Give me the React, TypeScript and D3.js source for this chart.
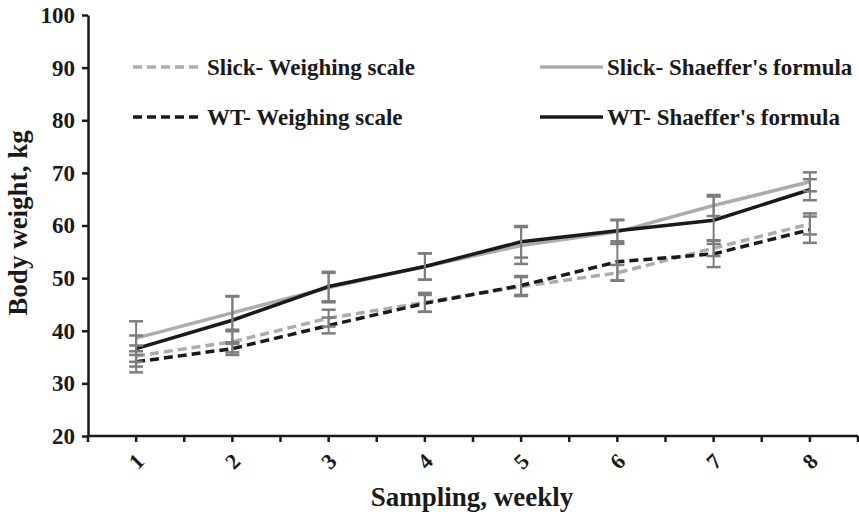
import { useEffect, useRef } from 'react'
import * as d3 from 'd3'

const weeks = ['1', '2', '3', '4', '5', '6', '7', '8']
const yTicks = [20, 30, 40, 50, 60, 70, 80, 90, 100]

const slickScale = [35.2, 37.9, 42.4, 45.4, 48.4, 51.0, 55.7, 60.3]
const slickScaleErr = [2.0, 2.0, 1.6, 1.8, 1.8, 1.5, 1.5, 2.0]
const slickFormula = [38.6, 43.4, 48.2, 52.2, 56.2, 58.8, 63.8, 68.3]
const slickFormulaErr = [3.2, 3.2, 2.8, 2.5, 3.5, 2.3, 2.0, 1.8]
const wtScale = [34.1, 36.6, 41.0, 45.2, 48.6, 53.1, 54.6, 59.2]
const wtScaleErr = [2.0, 1.2, 1.5, 1.6, 1.8, 3.5, 2.5, 2.5]
const wtFormula = [36.6, 42.0, 48.4, 52.2, 56.9, 59.0, 61.0, 66.8]
const wtFormulaErr = [2.5, 4.5, 2.8, 2.5, 3.0, 2.0, 4.5, 2.0]

const seriesNames = [
  'Slick- Weighing scale',
  "Slick- Shaeffer's formula",
  'WT- Weighing scale',
  "WT- Shaeffer's formula",
]

function App() {
  const svgRef = useRef<SVGSVGElement>(null)

  useEffect(() => {
    if (!svgRef.current) return
    const svg = d3.select(svgRef.current)
    svg.selectAll('*').remove()

    const margin = { top: 15, right: 1, bottom: 79, left: 88 }
    const width = 859 - margin.left - margin.right
    const height = 515 - margin.top - margin.bottom
    const font = '"Liberation Serif", "Times New Roman", serif'

    const g = svg.append('g').attr('transform', `translate(${margin.left},${margin.top})`)

    const x = d3.scaleBand().domain(weeks).range([0, width])
    const y = d3.scaleLinear().domain([20, 100]).range([height, 0])
    const cx = (w: string) => (x(w) as number) + x.bandwidth() / 2

    const series = [
      { name: seriesNames[0], values: slickScale, err: slickScaleErr, color: '#acacac', dash: '9,5' },
      { name: seriesNames[1], values: slickFormula, err: slickFormulaErr, color: '#acacac', dash: null },
      { name: seriesNames[2], values: wtScale, err: wtScaleErr, color: '#1a1a1a', dash: '9,5' },
      { name: seriesNames[3], values: wtFormula, err: wtFormulaErr, color: '#1a1a1a', dash: null },
    ]

    const line = d3
      .line<number>()
      .x((_, i) => cx(weeks[i]))
      .y((d) => y(d))

    // draw order: gray first, then black
    const order = [1, 0, 3, 2]
    order.forEach((k) => {
      const s = series[k]
      g.append('path')
        .datum(s.values)
        .attr('d', line)
        .attr('fill', 'none')
        .attr('stroke', s.color)
        .attr('stroke-width', 3.5)
        .attr('stroke-dasharray', s.dash)
    })

    // error bars
    const cap = 7
    series.forEach((s) => {
      s.values.forEach((v, i) => {
        const px = cx(weeks[i])
        const top = y(v + s.err[i])
        const bot = y(v - s.err[i])
        g.append('line')
          .attr('x1', px).attr('x2', px)
          .attr('y1', top).attr('y2', bot)
          .attr('stroke', '#7d7d7d').attr('stroke-width', 2)
        ;[top, bot].forEach((yy) => {
          g.append('line')
            .attr('x1', px - cap).attr('x2', px + cap)
            .attr('y1', yy).attr('y2', yy)
            .attr('stroke', '#7d7d7d').attr('stroke-width', 2.5)
        })
      })
    })

    // y axis
    const yAxis = g
      .append('g')
      .call(d3.axisLeft(y).tickValues(yTicks).tickSize(6).tickPadding(7).tickSizeOuter(0))
    yAxis.select('.domain').attr('stroke', '#1a1a1a').attr('stroke-width', 2.5)
    yAxis.selectAll('.tick line').attr('stroke', '#1a1a1a').attr('stroke-width', 2.5)
    yAxis
      .selectAll('.tick text')
      .attr('fill', '#1a1a1a')
      .style('font-family', font)
      .style('font-weight', 'bold')
      .style('font-size', '23px')

    // x axis with ticks at boundaries and centres
    const xAxis = g.append('g').attr('transform', `translate(0,${height})`)
    xAxis
      .append('line')
      .attr('x1', 0).attr('x2', width)
      .attr('stroke', '#1a1a1a').attr('stroke-width', 2.5)
    const tickPos: number[] = []
    weeks.forEach((w) => {
      tickPos.push(x(w) as number, cx(w))
    })
    tickPos.push(width)
    tickPos.forEach((p) => {
      xAxis.append('line')
        .attr('x1', p).attr('x2', p)
        .attr('y1', 0).attr('y2', 6)
        .attr('stroke', '#1a1a1a').attr('stroke-width', 2.5)
    })
    weeks.forEach((w) => {
      xAxis.append('text')
        .attr('transform', `translate(${cx(w) + 2},${27}) rotate(-45)`)
        .attr('text-anchor', 'middle')
        .attr('dominant-baseline', 'middle')
        .attr('fill', '#1a1a1a')
        .style('font-family', font)
        .style('font-weight', 'bold')
        .style('font-size', '22px')
        .text(w)
    })

    // axis titles
    svg.append('text')
      .attr('x', 472)
      .attr('y', 506)
      .attr('text-anchor', 'middle')
      .attr('fill', '#1a1a1a')
      .style('font-family', font)
      .style('font-weight', 'bold')
      .style('font-size', '27px')
      .text('Sampling, weekly')

    svg.append('text')
      .attr('transform', `translate(27,${223}) rotate(-90)`)
      .attr('text-anchor', 'middle')
      .attr('fill', '#1a1a1a')
      .style('font-family', font)
      .style('font-weight', 'bold')
      .style('font-size', '27px')
      .text('Body weight, kg')

    // legend
    const legendPos = [
      { x: 133, y: 67, len: 70 },
      { x: 540, y: 67, len: 63 },
      { x: 133, y: 117, len: 70 },
      { x: 540, y: 117, len: 63 },
    ]
    series.forEach((s, i) => {
      const p = legendPos[i]
      const lg = svg.append('g').attr('transform', `translate(${p.x},${p.y})`)
      lg.append('line')
        .attr('x1', 0).attr('x2', p.len)
        .attr('stroke', s.color)
        .attr('stroke-width', 3.5)
        .attr('stroke-dasharray', s.dash)
      lg.append('text')
        .attr('x', p.len + 4)
        .attr('y', 8)
        .attr('fill', '#1a1a1a')
        .style('font-family', font)
        .style('font-weight', 'bold')
        .style('font-size', '23px')
        .text(s.name)
    })
  }, [])

  return (
    <div style={{ position: 'absolute', left: 0, top: 0 }}>
      <svg ref={svgRef} width={859} height={515} style={{ display: 'block', background: '#fff' }}></svg>
    </div>
  )
}

export default App
